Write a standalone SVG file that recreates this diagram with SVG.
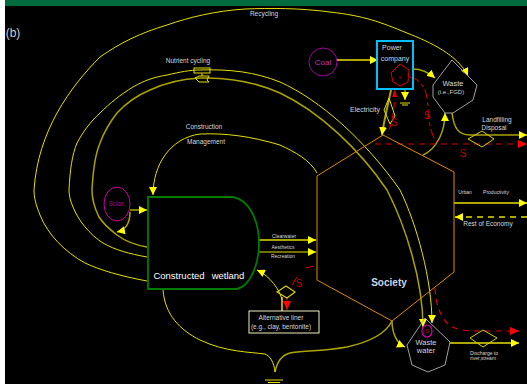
<svg xmlns="http://www.w3.org/2000/svg" width="527" height="384" viewBox="0 0 527 384">
<defs>
<marker id="ay" markerUnits="userSpaceOnUse" markerWidth="9" markerHeight="8" refX="8" refY="4" orient="auto"><path d="M0 0L8 4L0 8Z" fill="#ffff00"/></marker>
<marker id="ar" markerUnits="userSpaceOnUse" markerWidth="10" markerHeight="8" refX="9" refY="4" orient="auto"><path d="M0 0L9 4L0 8Z" fill="#ff0000"/></marker>
</defs>
<style>
text{font-family:"Liberation Sans",Arial,sans-serif;fill:#d4d8dc;text-anchor:middle}
.y{fill:none;stroke:#e6e000;stroke-width:1}
.o{fill:none;stroke:#aaa400;stroke-width:1.5}
.r{fill:none;stroke:#e00000;stroke-width:1}
.d{stroke-dasharray:6 5}
.s{fill:#c00000;font-size:10px}
.t6{font-size:6.5px}
.t5{font-size:5px}
.a{marker-end:url(#ay)}
.ra{marker-end:url(#ar)}
</style>
<rect width="527" height="384" fill="#000"/>
<rect width="5" height="384" fill="#fff"/>
<rect x="5" width="522" height="6" fill="#006b3f"/>
<text x="13" y="37" style="font-size:12px;fill:#c8ccd0">(b)</text>

<g id="connectors">
<path class="y a" d="M147 281C120 276 100 270 85 263C65 252 48 235 40 215C36 205 34 198 34 190C36 160 45 135 57 113C70 90 85 72 100 57C120 43 140 33 167 25C190 17 215 11 245 9C270 8 300 8 330 12C365 16 380 22 407 33C430 42 458 55 468 76"/>
<path class="y a" d="M147 257C130 254 115 250 103 243C90 235 78 220 73 207C70 200 69 195 69 190C70 170 72 155 77 143C83 132 90 122 100 113C110 103 120 95 133 87C145 80 155 77 167 75C180 72 190 70 200 70C230 69 255 72 280 82C320 100 365 140 400 190C417 225 432 280 432 323"/>
<path class="o a" d="M147 247C135 245 125 241 117 235C108 228 102 222 99 217C94 207 92 198 92 190C93 170 95 155 100 143C104 132 110 122 117 113C127 102 138 95 150 90C165 83 180 79 200 78C230 77 255 82 280 93C320 112 360 150 387 190C405 225 423 280 423 327"/>
<path class="y a" d="M317 173C310 160 295 152 280 145C250 136 225 133 200 134C170 138 153 165 153 195"/>
<path class="o a" d="M130 210H147"/>
<path class="o a" d="M130 212C130 222 126 230 117 232"/>
<path class="o a" d="M259 240H316" style="stroke-width:2"/>
<path class="y a" d="M259 252H316"/>
<path class="y a" d="M337 60H378" style="stroke-width:1.5"/>
<path class="o a" d="M413 69C422 69 428 72 435 78"/>
<path class="o a" d="M391 90C388 105 384 120 382 135" style="stroke-width:2"/>
<path class="y a" d="M405 90V100"/>
<path class="y" d="M400 103H410M402 105H408"/>
<path class="o a" d="M423 155C438 148 445 130 445 113"/>
<path class="o a" d="M452 113C454 128 458 135 470 135H527"/>
<path class="y a" d="M454 203H527" style="stroke-width:1.5"/>
<path class="y a d" d="M527 217H455" style="stroke-width:1.5"/>
<path class="y a" d="M450 343H519" style="stroke-width:1.5"/>
<path class="o a" d="M392 321C392 332 396 343 405 347"/>
<path class="o" d="M392 321C385 335 365 343 347 347C325 351 300 351 290 353C282 355 277 362 275 372"/>
<path class="y" d="M163 290C165 315 180 330 200 340C225 352 250 352 265 354C270 356 274 362 275 372"/>
<path class="y" d="M265 380H283M268 382.500H280"/>
<path class="o" d="M282 311V297" style="stroke-width:2"/>
<path class="y a" d="M282 300C280 290 270 276 257 270"/>
<path class="r d" d="M394 91C396 105 392 120 388 135"/>
<path fill="#e00000" d="M392 97L395 89L397 97Z"/>
<path class="r" stroke-dasharray="10 3 4 3" d="M410 77C422 80 428 90 428 110C429 125 432 138 438 143"/>
<path class="r d ra" d="M375 144H527" style="stroke-width:1.200"/>
<path class="r d ra" d="M435 288C436 305 440 315 447 323C455 331 470 331 480 331H519" style="stroke-width:1.200"/>
<path class="r" d="M306 268L314 266M292 285L297 277"/>
<path class="r ra" d="M287 297V310"/>
</g>

<g id="recycling-label"><text x="264" y="16" class="t6">Recycling</text></g>
<g id="nutrient-cycling">
<rect x="194" y="68" width="16" height="5" fill="none" stroke="#e6e000"/>
<path class="o" d="M202 73V76"/>
<path class="y" d="M195 78L199 76H209L207 80L209 82H199Z"/>
<text x="188" y="63" class="t6">Nutrient cycling</text>
</g>
<g id="construction-label">
<text x="204" y="129" class="t6">Construction</text>
<text x="206" y="144" class="t6">Management</text>
</g>

<g id="solar">
<ellipse cx="117" cy="204" rx="13" ry="17" fill="none" stroke="#c800a0"/>
<text x="116" y="206" style="font-size:6.500px;fill:#a00080">Solar</text>
</g>

<g id="wetland">
<path d="M148 197H233C250 200 259 222 259 243C259 265 250 286 237 289H148Z" fill="none" stroke="#007a00" stroke-width="1.800"/>
<text x="179" y="279" style="font-size:9.500px;fill:#fff">Constructed</text>
<text x="228" y="279" style="font-size:9.500px;fill:#fff">wetland</text>
<text x="284" y="238" class="t5">Clearwater</text>
<text x="283" y="249" class="t5">Aesthetics</text>
<text x="283" y="258" class="t5">Recreation</text>
</g>

<g id="alternative-liner">
<path d="M277 292L286 286L295 292L287 298Z" fill="none" stroke="#d8d000" stroke-width="1.200"/>
<text x="299" y="287" class="s">S</text>
<rect x="249" y="311" width="70" height="22" fill="#000" stroke="#f0f0c0"/>
<text x="281" y="320" style="font-size:6.500px">Alternative liner</text>
<text x="281" y="329" style="font-size:6.500px">(e.g., clay, bentonite)</text>
</g>

<g id="society">
<path d="M383 135L454 172V272L392 321L317 280V176Z" fill="none" stroke="#e08a00" stroke-width="1"/>
<text x="389" y="286" style="font-size:10px;font-weight:bold;fill:#c8d8e8">Society</text>
<text x="465" y="194" class="t5">Urban</text>
<text x="496" y="194" class="t5">Productivity</text>
<text x="488" y="226" class="t6">Rest of Economy</text>
</g>

<g id="coal">
<circle cx="323" cy="62" r="14" fill="none" stroke="#a000a0" stroke-width="1"/>
<text x="323" y="65" style="font-size:8px;fill:#c030c0">Coal</text>
</g>

<g id="power-company">
<rect x="377" y="41" width="36" height="48" fill="none" stroke="#00bfff" stroke-width="2"/>
<text x="392" y="50" style="font-size:7px">Power</text>
<text x="395" y="61" style="font-size:7px">company</text>
<path d="M400 64L409 70L408 82L400 86L393 82L391 73Z" fill="none" stroke="#e00000"/>
<text x="400" y="79" style="font-size:5px;fill:#d00000">s</text>
<text x="365" y="112" style="font-size:7px">Electricity</text>
<path class="y" d="M389 98L384 110L390 124L395 116Z"/>
<text x="394" y="126" class="s">S</text>
</g>

<g id="waste-fgd">
<path d="M452 60L477 85L473 100L453 113H445L433 97L433 85Z" fill="none" stroke="#a0a0a0"/>
<text x="453" y="86" style="font-size:7.500px">Waste</text>
<text x="451" y="94" style="font-size:6px">(i.e.,FGD)</text>
<text x="427" y="119" class="s">S</text>
</g>

<g id="landfilling">
<path d="M482 131L494 139L482 147L468 139Z" fill="none" stroke="#d8d000"/>
<text x="497" y="122" class="t6">Landfilling</text>
<text x="494" y="130" class="t6">Disposal</text>
<text x="463" y="157" class="s">S</text>
</g>

<g id="waste-water">
<path d="M425 318L450 342L445 365L428 372L412 365L407 345Z" fill="none" stroke="#a0a0a0"/>
<ellipse cx="427" cy="331" rx="5" ry="6" fill="none" stroke="#d000b0" stroke-width="1.200"/>
<text x="427" y="333" style="font-size:6px;fill:#c00000">S</text>
<text x="426" y="345" style="font-size:7.500px">Waste</text>
<text x="426" y="353" style="font-size:7.500px">water</text>
</g>

<g id="discharge">
<path d="M483 330L497 338L483 347L470 338Z" fill="none" stroke="#d8d000"/>
<text x="484" y="355" class="t5">Discharge   to</text>
<text x="483" y="360" class="t5">river,stream</text>
</g>
</svg>
